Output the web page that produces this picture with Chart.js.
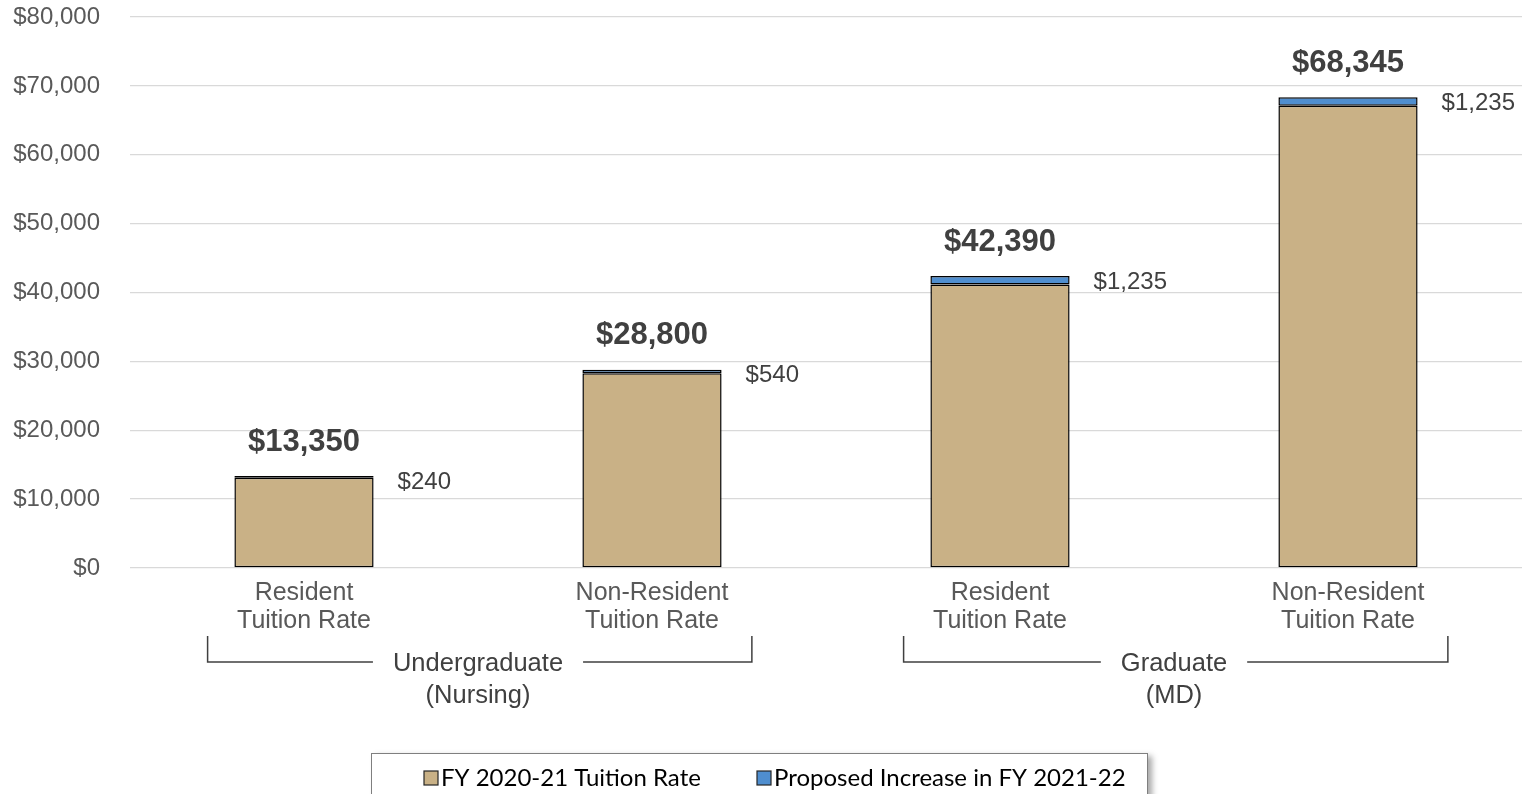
<!DOCTYPE html>
<html>
<head>
<meta charset="utf-8">
<script src="https://cdn.jsdelivr.net/npm/chart.js@4"></script>
<style>
  html, body { margin: 0; padding: 0; background: #fff; }
  #wrap { width: 1536px; height: 794px; position: relative; }
</style>
</head>
<body>
<div id="wrap"><canvas id="tuition"></canvas></div>
<script>
// tuition rates by student type
const categories = [
    ["Resident", "Tuition Rate"],
    ["Non-Resident", "Tuition Rate"],
    ["Resident", "Tuition Rate"],
    ["Non-Resident", "Tuition Rate"],
];
const groups = [
    { label: ["Undergraduate", "(Nursing)"], from: 0, to: 1 },
    { label: ["Graduate", "(MD)"], from: 2, to: 3 },
];
const currentRate = [13110, 28260, 41155, 67110];
const proposedIncrease = [240, 540, 1235, 1235];
const yTicks = [0, 10000, 20000, 30000, 40000, 50000, 60000, 70000, 80000];

const seriesNames = ["FY 2020-21 Tuition Rate", "Proposed Increase in FY 2021-22"];
const tan = "#C9B186";
const blue = "#4F8ECF";
const textDark = "#404040";
const textGrey = "#595959";
const arial = "'Liberation Sans', Arial, sans-serif";

const money = (v) => "$" + v.toLocaleString("en-US");

// totals above bars, increases to the right, group brackets and the legend box
const annotate = {
    id: "annotate",
    afterDraw(chart) {
        const ctx = chart.ctx;
        const x = chart.scales.x;
        const y = chart.scales.y;
        const step = x.getPixelForValue(1) - x.getPixelForValue(0);
        const halfBar = step * 0.4 / 2;

        ctx.save();
        currentRate.forEach((base, i) => {
            const total = base + proposedIncrease[i];
            const cx = x.getPixelForValue(i);
            const top = y.getPixelForValue(total);

            ctx.fillStyle = textDark;
            ctx.font = "bold 31px " + arial;
            ctx.textAlign = "center";
            ctx.textBaseline = "middle";
            ctx.fillText(money(total), cx, top - 34);

            ctx.font = "24px " + arial;
            ctx.textAlign = "left";
            ctx.fillText(money(proposedIncrease[i]), cx + halfBar + 24, top + 6);
        });

        // brackets under each pair of categories
        groups.forEach((g) => {
            const left = x.getPixelForValue(g.from) - step * 0.277;
            const right = x.getPixelForValue(g.to) + step * 0.287;
            const mid = (x.getPixelForValue(g.from) + x.getPixelForValue(g.to)) / 2;
            const lineY = 662;
            ctx.font = "25.5px " + arial;
            const gap = ctx.measureText(g.label[0]).width / 2 + 20;

            ctx.strokeStyle = "#404040";
            ctx.lineWidth = 1.5;
            ctx.beginPath();
            ctx.moveTo(left, 636);
            ctx.lineTo(left, lineY);
            ctx.lineTo(mid - gap, lineY);
            ctx.moveTo(mid + gap, lineY);
            ctx.lineTo(right, lineY);
            ctx.lineTo(right, 636);
            ctx.stroke();

            ctx.fillStyle = textDark;
            ctx.textAlign = "center";
            ctx.textBaseline = "middle";
            ctx.fillText(g.label[0], mid, 664);
            ctx.fillText(g.label[1], mid, 696);
        });

        // legend box with a soft shadow on the right
        const bx = 371, by = 753, bw = 776, bh = 60;
        ctx.save();
        ctx.shadowColor = "rgba(0,0,0,0.35)";
        ctx.shadowBlur = 6;
        ctx.shadowOffsetX = 5;
        ctx.shadowOffsetY = 3;
        ctx.fillStyle = "#fff";
        ctx.fillRect(bx, by, bw, bh);
        ctx.restore();
        ctx.strokeStyle = "#7f7f7f";
        ctx.lineWidth = 1;
        ctx.strokeRect(bx + 0.5, by + 0.5, bw, bh);

        const items = [
            { text: seriesNames[0], color: tan, sx: 424 },
            { text: seriesNames[1], color: blue, sx: 757 },
        ];
        ctx.font = "24px Lato, 'Open Sans', sans-serif";
        ctx.textAlign = "left";
        ctx.textBaseline = "middle";
        items.forEach((it) => {
            ctx.fillStyle = it.color;
            ctx.fillRect(it.sx, 771, 14, 14);
            ctx.strokeStyle = "#262626";
            ctx.lineWidth = 1.2;
            ctx.strokeRect(it.sx, 771, 14, 14);
            ctx.fillStyle = "#000";
            ctx.fillText(it.text, it.sx + 17, 778);
        });
        ctx.restore();
    },
};

new Chart(document.getElementById("tuition"), {
    type: "bar",
    data: {
        labels: categories,
        datasets: [
            {
                label: seriesNames[0],
                data: currentRate,
                backgroundColor: tan,
                borderColor: "#000",
                borderWidth: 1.5,
                borderSkipped: false,
                barPercentage: 0.4,
                categoryPercentage: 1,
            },
            {
                label: seriesNames[1],
                data: proposedIncrease,
                backgroundColor: blue,
                borderColor: "#000",
                borderWidth: 1.5,
                borderSkipped: false,
                barPercentage: 0.4,
                categoryPercentage: 1,
            },
        ],
    },
    options: {
        responsive: true,
        maintainAspectRatio: false,
        animation: false,
        layout: { padding: { top: 17, right: 14, left: 0, bottom: 0 } },
        plugins: {
            legend: { display: false },
            tooltip: { enabled: false },
        },
        scales: {
            x: {
                stacked: true,
                grid: { display: false, drawTicks: false },
                border: { display: false },
                ticks: {
                    color: textGrey,
                    font: { family: arial, size: 25, lineHeight: 1.12 },
                    padding: 11,
                    maxRotation: 0,
                    autoSkip: false,
                },
                afterFit: (scale) => {
                    scale.height = 226;
                    scale.paddingLeft = 0;
                    scale.paddingRight = 0;
                },
            },
            y: {
                stacked: true,
                min: 0,
                max: 80000,
                afterBuildTicks: (scale) => {
                    scale.ticks = yTicks.map((v) => ({ value: v }));
                },
                grid: { color: "#d9d9d9", lineWidth: 1.3, drawTicks: false },
                border: { display: false },
                ticks: {
                    color: textGrey,
                    font: { family: arial, size: 24 },
                    padding: 30,
                    callback: (v) => money(v),
                },
                afterFit: (scale) => {
                    scale.width = 130;
                    scale.paddingTop = 0;
                    scale.paddingBottom = 0;
                },
            },
        },
    },
    plugins: [annotate],
});
</script>
</body>
</html>
